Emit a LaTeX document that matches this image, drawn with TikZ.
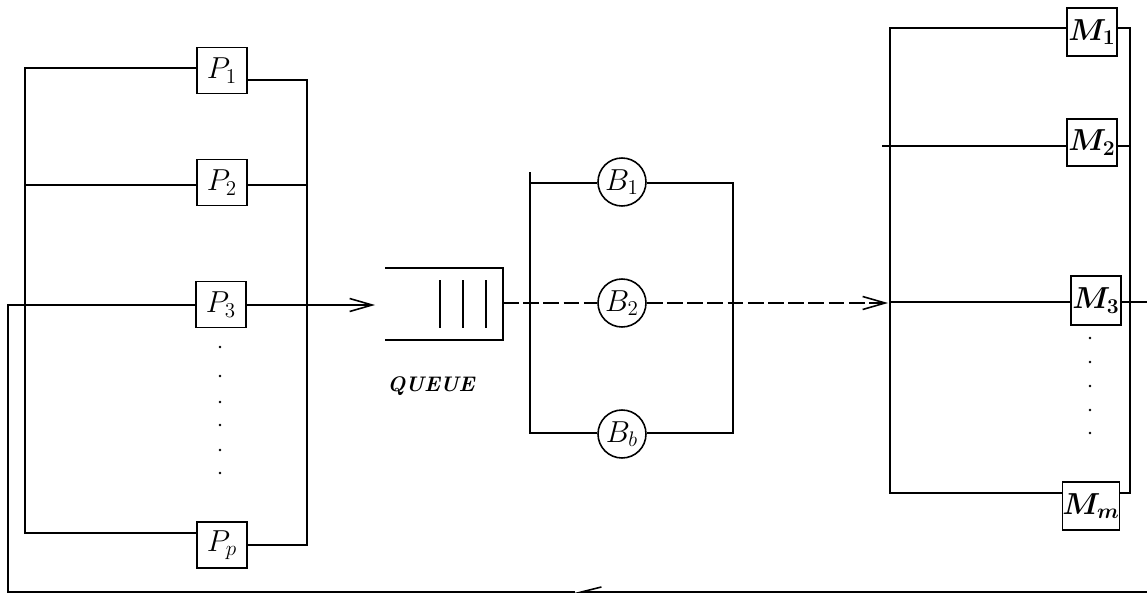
\documentclass[tikz,border=0pt]{standalone}
\usetikzlibrary{arrows.meta}
\begin{document}
\begin{tikzpicture}[x=0.02cm,y=-0.02cm,line width=0.9pt,
  pbox/.style={draw,rectangle,inner sep=0pt,minimum width=1cm,minimum height=0.92cm,font=\fontsize{18}{20}\selectfont},
  mbox/.style={pbox,font=\fontsize{18}{20}\selectfont\boldmath},
  bcirc/.style={draw,circle,inner sep=0pt,minimum size=0.96cm,font=\fontsize{18}{20}\selectfont},
  flow/.style={-{Straight Barb[length=4.5mm,width=2.6mm,line width=0.9pt]}},
  dsh/.style={dash pattern=on 9pt off 2.5pt},
  dotm/.style={fill,circle,inner sep=0pt,minimum size=1.6pt}]
\useasboundingbox (0,0) rectangle (1147,595);
% P nodes
\node[pbox] (p1) at (222,70.5) {$P_1$};
\node[pbox] (p2) at (222,182.5) {$P_2$};
\node[pbox] (p3) at (221,304.5) {$P_3$};
\node[pbox] (pp) at (222,545) {$P_p$};
\draw (p1.west |- 0,68) -- (25,68) -- (25,533) -- (pp.west |- 0,533);
\draw (p1.east |- 0,80) -- (307,80) -- (307,545) -- (pp.east |- 0,545);
\draw (25,185) -- (p2.west |- 0,185);
\draw (p2.east |- 0,185) -- (307,185);
\draw (25,305) -- (p3.west |- 0,305);
\coordinate (qa) at (375,305);
\draw[flow] (p3.east |- 0,305) -- (qa);
\foreach \yy in {347,376,402,425,450,473} \node[dotm] at (220,\yy) {};
% queue
\coordinate (qtl) at (385,268);
\coordinate (qbl) at (385,340);
\coordinate (qr) at (503,303);
\draw (qtl) -- (503,268) -- (503,340) -- (qbl);
\foreach \xx in {440,463,486} \draw (\xx,280) -- (\xx,328);
\node[font=\fontsize{12}{14}\selectfont\bfseries\itshape] (ql) at (431,386) {QUEUE};
% B nodes
\node[bcirc] (b1) at (622,182) {$B_1$};
\node[bcirc] (b2) at (622,303) {$B_2$};
\node[bcirc] (bb) at (622,434) {$B_b$};
\draw (b1.west |- 0,183) -- (530,183);
\draw (530,172) -- (530,433) -- (bb.west |- 0,433);
\draw (b1.east |- 0,183) -- (733,183) -- (733,433) -- (bb.east |- 0,433);
\draw[dsh] (qr) -- (b2.west);
\coordinate (ma) at (888,303);
\draw[dsh,flow] (b2.east) -- (ma);
% M nodes
\node[mbox,minimum height=0.96cm] (m1) at (1092,32) {$M_1$};
\node[mbox,minimum height=0.94cm] (m2) at (1092,142.5) {$M_2$};
\node[mbox,minimum height=0.98cm] (m3) at (1096,300.5) {$M_3$};
\node[mbox,minimum height=0.96cm] (mm) at (1091,506) {$M_m$};
\draw (m1.west |- 0,28) -- (890,28) -- (890,493) -- (mm.west |- 0,493);
\draw (m1.east |- 0,28) -- (1130,28) -- (1130,493) -- (mm.east |- 0,493);
\draw (882,146) -- (m2.west |- 0,146);
\draw (m2.east |- 0,146) -- (1130,146);
\draw (890,302) -- (m3.west |- 0,302);
\coordinate (mo) at (1147,302);
\draw (m3.east |- 0,302) -- (mo);
\foreach \yy in {338,362,386,410,433} \node[dotm] at (1090,\yy) {};
% feedback
\coordinate (fr) at (1147,592);
\coordinate (fm) at (575,592);
\coordinate (fl) at (8,592);
\coordinate (fu) at (8,305);
\draw[-{Straight Barb[harpoon,swap,length=4mm,width=2mm,line width=0.9pt]}] (fr) -- (fm);
\draw (fm) -- (fl) -- (fu) -- (25,305);
\end{tikzpicture}
\end{document}
